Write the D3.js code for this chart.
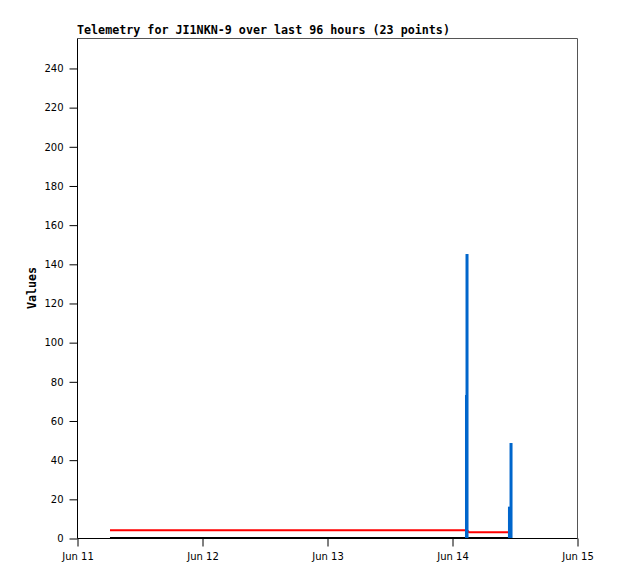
<!DOCTYPE html>
<html>
<head>
<meta charset="utf-8">
<script src="https://cdn.jsdelivr.net/npm/d3@7"></script>
<style>
  html, body { margin: 0; padding: 0; background: #fff; }
  svg { display: block; }
</style>
</head>
<body>
<svg id="chart" width="618" height="579"></svg>
<script>
// ---- data ----
const titleText = "Telemetry for JI1NKN-9 over last 96 hours (23 points)";
const yLabel = "Values";
const times = [
  "2024-06-11T06:20", "2024-06-14T02:20", "2024-06-14T02:35", "2024-06-14T02:47",
  "2024-06-14T02:53", "2024-06-14T03:16", "2024-06-14T04:00", "2024-06-14T05:00",
  "2024-06-14T06:00", "2024-06-14T07:00", "2024-06-14T08:00", "2024-06-14T09:00",
  "2024-06-14T09:45", "2024-06-14T10:15", "2024-06-14T10:30", "2024-06-14T10:40",
  "2024-06-14T10:45", "2024-06-14T10:50", "2024-06-14T10:55", "2024-06-14T11:02",
  "2024-06-14T11:08", "2024-06-14T11:14", "2024-06-14T11:20"
];
const seriesBlack = [0,0,0,0,0,0,0,0,0,0,0,0,0,0,0,0,0,0,0,0,0,0,0];
const seriesRed   = [4,4,4,4,4,3,3,3,3,3,3,3,3,3,3,3,3,3,3,3,3,3,3];
const seriesBlue  = [0,0,0,73,145,0,0,0,0,0,0,0,0,0,0,0,0,0,0,16,0,0,48.5];
const yTicks = [0,20,40,60,80,100,120,140,160,180,200,220,240];
const xTickDates = ["2024-06-11","2024-06-12","2024-06-13","2024-06-14","2024-06-15"];
const xDomain = ["2024-06-11T00:00", "2024-06-15T00:00"];
const yDomain = [0, 255.3];

// ---- layout ----
const parse = d3.timeParse("%Y-%m-%dT%H:%M");
const parseDay = d3.timeParse("%Y-%m-%d");
const L = 77, T = 38, W = 500, H = 500;
const svg = d3.select("#chart");

const x = d3.scaleTime().domain(xDomain.map(parse)).range([L, L + W]);
const y = d3.scaleLinear().domain(yDomain).range([T + H, T]);

const pts = times.map((t, i) => ({
  t: parse(t), k: seriesBlack[i], r: seriesRed[i], b: seriesBlue[i]
}));

// frame (top/right)
svg.append("path")
  .attr("d", `M${L+0.5},${T+0.5}H${L+W+0.5}V${T+H+0.5}`)
  .attr("fill", "none").attr("stroke", "#555").attr("stroke-width", 1);

// axes
const tickFont = "'DejaVu Sans', sans-serif";
const yAxis = d3.axisLeft(y).tickValues(yTicks).tickSize(8).tickPadding(6).tickFormat(d3.format("d"));
const gy = svg.append("g").attr("transform", `translate(${L+0.5},0.5)`).call(yAxis);
gy.select(".domain").attr("stroke", "#000").attr("d", `M0,${T}V${T+H}`);
gy.selectAll(".tick line").attr("stroke", "#000");
gy.selectAll(".tick text").attr("font-family", tickFont).attr("font-size", 10).attr("fill", "#000");

const xAxis = d3.axisBottom(x).tickValues(xTickDates.map(parseDay)).tickSize(8).tickPadding(6)
  .tickFormat(d3.timeFormat("%b %d"));
const gx = svg.append("g").attr("transform", `translate(0.5,${T+H+0.5})`).call(xAxis);
gx.select(".domain").attr("stroke", "#000").attr("d", `M${L},0H${L+W}`);
gx.selectAll(".tick line").attr("stroke", "#000");
gx.selectAll(".tick text").attr("font-family", tickFont).attr("font-size", 10).attr("fill", "#000");

// series: black line
const line = key => d3.line().x(d => x(d.t)).y(d => y(d[key]));
svg.append("path").datum(pts).attr("d", line("k"))
  .attr("fill", "none").attr("stroke", "#000").attr("stroke-width", 2);
// red line
svg.append("path").datum(pts).attr("d", line("r"))
  .attr("fill", "none").attr("stroke", "#ff0000").attr("stroke-width", 2);
// blue impulses
svg.append("g").selectAll("rect").data(pts.filter(d => d.b > 0)).join("rect")
  .attr("x", d => x(d.t) - 1.5)
  .attr("width", 3)
  .attr("y", d => y(d.b))
  .attr("height", d => y(0) - y(d.b))
  .attr("fill", "#0066cc");

// title
svg.append("text").attr("x", L).attr("y", 34)
  .attr("font-family", "'DejaVu Sans Mono', monospace").attr("font-weight", "bold")
  .attr("font-size", 11.7).attr("fill", "#000").text(titleText);

// y label
svg.append("text")
  .attr("transform", `translate(36,${T + H/2}) rotate(-90)`)
  .attr("text-anchor", "middle")
  .attr("font-family", "'DejaVu Sans Mono', monospace").attr("font-weight", "bold")
  .attr("font-size", 11.7).attr("fill", "#000").text(yLabel);
</script>
</body>
</html>
